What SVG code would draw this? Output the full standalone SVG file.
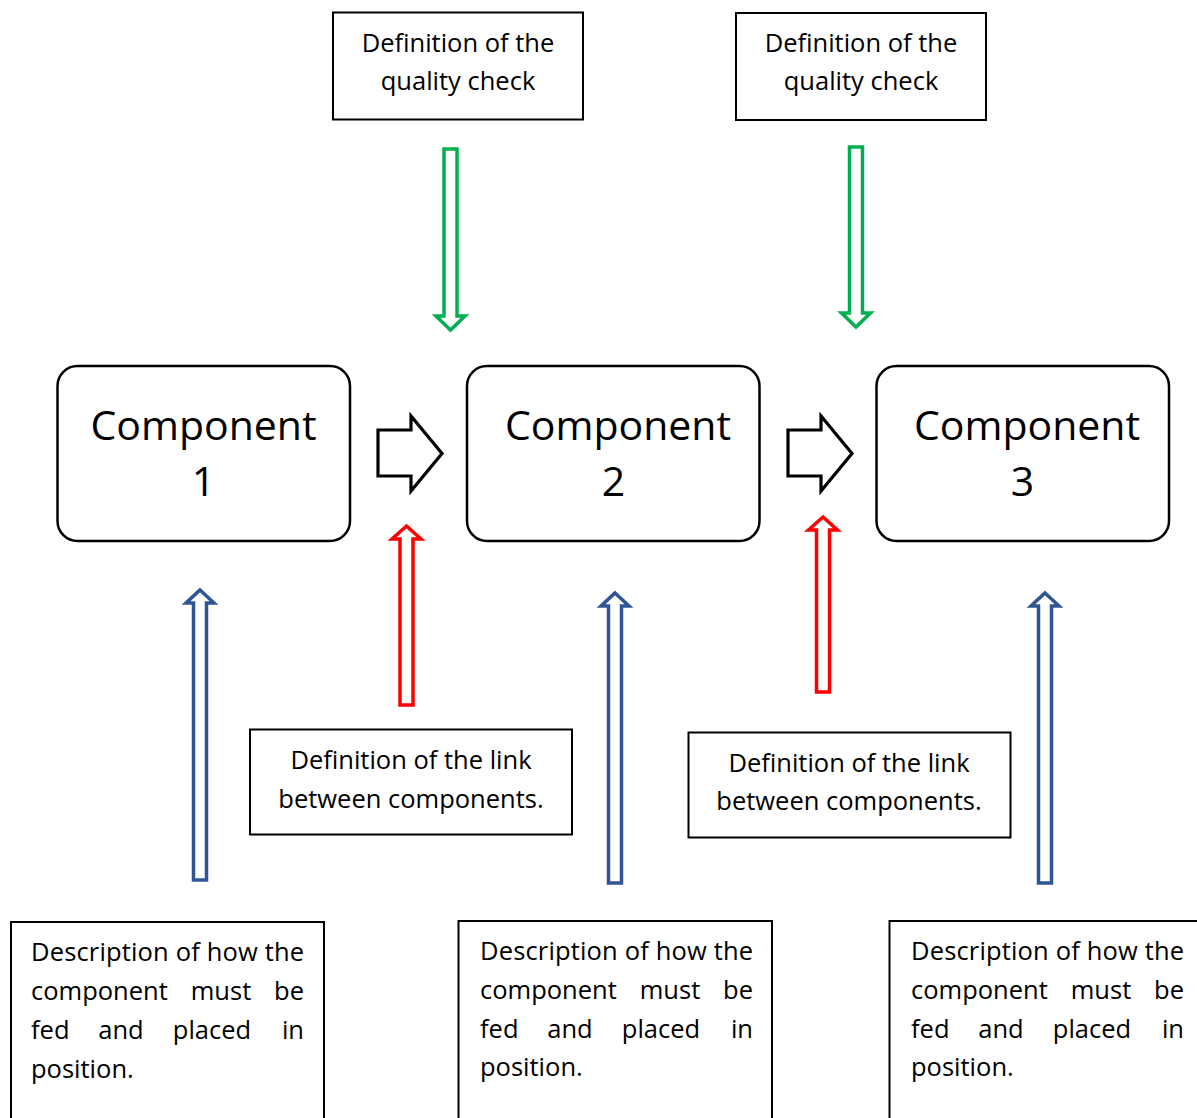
<svg xmlns="http://www.w3.org/2000/svg" width="1197" height="1118" viewBox="0 0 1197 1118">
<style>
text{font-family:"Open Sans","Liberation Sans",sans-serif;fill:#000}
.s{font-size:25.5px}
.c{font-size:41px;text-anchor:middle}
.m{text-anchor:middle}
.e{text-anchor:end}
.box{fill:#fff;stroke:#000;stroke-width:2}
.comp{fill:#fff;stroke:#000;stroke-width:2.5}
.blk{fill:#fff;stroke:#000;stroke-width:3.2;stroke-linejoin:miter}
.grn{fill:#fff;stroke:#00B050;stroke-width:3.5}
.red{fill:#fff;stroke:#FF0000;stroke-width:3.5}
.blu{fill:#fff;stroke:#2F5597;stroke-width:3.5}
</style>
<rect width="1197" height="1118" fill="#fff"/>
<g id="qc1"><rect class="box" x="333" y="12.5" width="250" height="107"/>
<text class="s m" x="458" y="52">Definition of the</text><text class="s m" x="458" y="90">quality check</text></g>
<g id="qc2"><rect class="box" x="736" y="13" width="250" height="107"/>
<text class="s m" x="861" y="52">Definition of the</text><text class="s m" x="861" y="90">quality check</text></g>
<g id="comp1"><rect class="comp" x="57.5" y="366" width="292.5" height="175" rx="20"/>
<text class="c" x="203.5" y="439.5">Component</text><text class="c" x="203.5" y="495.5">1</text></g>
<g id="comp2"><rect class="comp" x="467" y="366" width="292.5" height="175" rx="20"/>
<text class="c" x="618" y="439.5">Component</text><text class="c" x="613.5" y="495.5">2</text></g>
<g id="comp3"><rect class="comp" x="876.5" y="366" width="292.5" height="175" rx="20"/>
<text class="c" x="1027" y="439.5">Component</text><text class="c" x="1022.5" y="495.5">3</text></g>
<g id="link1"><rect class="box" x="250" y="729.5" width="322" height="105"/>
<text class="s m" x="411" y="769">Definition of the link</text><text class="s m" x="411" y="808">between components.</text></g>
<g id="link2"><rect class="box" x="688.5" y="732.5" width="322" height="105"/>
<text class="s m" x="849" y="772">Definition of the link</text><text class="s m" x="849" y="810">between components.</text></g>
<g id="desc1"><rect class="box" x="11" y="922" width="313" height="210"/>
<text class="s" x="31" y="961" textLength="273" lengthAdjust="spacing">Description of how the</text>
<text class="s" x="31" y="1000">component</text><text class="s m" x="221" y="1000">must</text><text class="s e" x="304" y="1000">be</text>
<text class="s" x="31" y="1039">fed</text><text class="s m" x="121" y="1039">and</text><text class="s m" x="212" y="1039">placed</text><text class="s e" x="304" y="1039">in</text>
<text class="s" x="31" y="1078">position.</text></g>
<g id="desc2"><rect class="box" x="458.5" y="921" width="313.5" height="210"/>
<text class="s" x="480" y="960" textLength="273" lengthAdjust="spacing">Description of how the</text>
<text class="s" x="480" y="999">component</text><text class="s m" x="670" y="999">must</text><text class="s e" x="753" y="999">be</text>
<text class="s" x="480" y="1038">fed</text><text class="s m" x="570" y="1038">and</text><text class="s m" x="661" y="1038">placed</text><text class="s e" x="753" y="1038">in</text>
<text class="s" x="480" y="1076">position.</text></g>
<g id="desc3"><rect class="box" x="889.5" y="921" width="320" height="210"/>
<text class="s" x="911" y="960" textLength="273" lengthAdjust="spacing">Description of how the</text>
<text class="s" x="911" y="999">component</text><text class="s m" x="1101" y="999">must</text><text class="s e" x="1184" y="999">be</text>
<text class="s" x="911" y="1038">fed</text><text class="s m" x="1001" y="1038">and</text><text class="s m" x="1092" y="1038">placed</text><text class="s e" x="1184" y="1038">in</text>
<text class="s" x="911" y="1076">position.</text></g>
<g id="connectors">
<polygon class="grn" points="444,149 457,149 457,316 465,316 450.5,330 436,316 444,316"/>
<polygon class="grn" points="849.5,147 862.5,147 862.5,313 870.5,313 856,327 841.5,313 849.5,313"/>
<polygon class="blk" points="378,430 411,430 411,416 442,453.5 411,491 411,476 378,476"/>
<polygon class="blk" points="788,430 821,430 821,416 852,453.5 821,491 821,476 788,476"/>
<polygon class="red" points="406.5,526 421,539 413,539 413,705 400,705 400,539 392,539"/>
<polygon class="red" points="823,517 837.5,530 829.5,530 829.5,692 816.5,692 816.5,530 808.5,530"/>
<polygon class="blu" points="200,590 214,603 206.5,603 206.5,880 193.5,880 193.5,603 186,603"/>
<polygon class="blu" points="615,593 629,606 621.5,606 621.5,883 608.5,883 608.5,606 601,606"/>
<polygon class="blu" points="1045,593 1059,606 1051.5,606 1051.5,883 1038.5,883 1038.5,606 1031,606"/>
</g>
</svg>
